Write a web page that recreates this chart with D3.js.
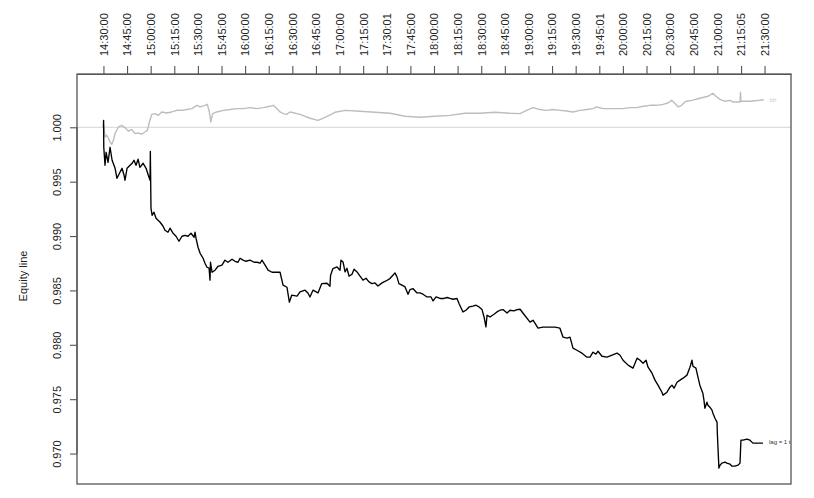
<!DOCTYPE html>
<html>
<head>
<meta charset="utf-8">
<script src="https://cdn.jsdelivr.net/npm/d3@7"></script>
<style>
  html, body { margin: 0; padding: 0; background: #ffffff; }
  svg { display: block; }
  text { font-family: "Liberation Sans", Arial, Helvetica, sans-serif; }
</style>
</head>
<body>
<svg id="chart" width="814" height="498"></svg>
<script>
// Session clock labels along the top axis (15-minute marks)
const tickLabels = [
  "14:30:00","14:45:00","15:00:00","15:15:00","15:30:00","15:45:00","16:00:00",
  "16:15:00","16:30:00","16:45:00","17:00:00","17:15:00","17:30:01","17:45:00",
  "18:00:00","18:15:00","18:30:00","18:45:00","19:00:00","19:15:00","19:30:00",
  "19:45:01","20:00:00","20:15:00","20:30:00","20:45:00","21:00:00","21:15:05",
  "21:30:00"
];

const yTicks = [0.970, 0.975, 0.980, 0.985, 0.990, 0.995, 1.000];

// Strategy equity (lag = 1 t): minutes after the 14:30 open, and equity
const strategyMinutes = [
  0, 0.1, 0.2, 1.0, 1.7, 2.9, 4.2, 5.5, 7.4, 8.6, 10.5, 11.8, 13.1, 13.7, 15.0,
  16.9, 18.2, 19.4, 20.7, 22.0, 23.2, 25.2, 27.1, 28.3, 29.6, 29.8, 30.2, 30.9,
  32.1, 33.4, 34.7, 36.0, 37.9, 39.1, 41.0, 42.3, 44.2, 46.1, 48.0, 49.9, 51.8,
  53.7, 55.6, 57.6, 58.2, 58.8, 60.1, 61.4, 63.3, 64.5, 65.8, 67.1, 67.7, 68.0,
  69.0, 70.9, 72.8, 75.3, 77.2, 79.1, 81.7, 83.6, 85.5, 86.8, 88.7, 90.6, 93.1,
  95.7, 97.6, 99.5, 100.7, 102.7, 104.6, 107.1, 112.2, 114.1, 116.6, 118.1,
  119.6, 123.0, 124.9, 128.1, 130.0, 131.2, 133.1, 136.3, 138.7, 142.0, 143.9,
  144.3, 145.8, 148.4, 150.3, 150.9, 152.2, 153.5, 154.7, 156.0, 157.9, 159.2,
  161.1, 163.0, 164.9, 166.8, 168.7, 170.6, 172.5, 174.4, 177.0, 179.5, 182.0,
  183.9, 185.2, 186.5, 187.7, 189.6, 191.6, 193.5, 194.8, 196.6, 199.2, 201.1,
  203.0, 205.6, 208.1, 209.4, 211.3, 213.8, 216.3, 218.3, 220.2, 222.1, 224.6,
  225.9, 228.4, 230.3, 232.3, 234.8, 236.7, 238.6, 240.5, 241.8, 243.0, 243.7,
  245.6, 248.1, 250.0, 251.9, 253.8, 256.4, 258.3, 260.8, 262.7, 264.7, 266.6,
  271.0, 272.9, 276.1, 279.2, 283.7, 286.9, 290.0, 292.0, 294.5, 296.4, 298.3,
  300.8, 304.0, 307.2, 309.1, 311.0, 312.9, 314.2, 316.7, 319.9, 323.1, 326.3,
  328.2, 330.1, 333.3, 336.4, 339.0, 340.9, 342.8, 344.7, 346.0, 348.5, 350.4,
  352.3, 354.8, 355.5, 358.0, 359.9, 361.2, 362.5, 364.4, 366.3, 368.2, 370.7,
  372.6, 373.9, 374.5, 376.4, 377.7, 378.9, 380.8, 381.5, 382.1, 383.4, 384.0,
  385.3, 386.6, 387.2, 388.5, 389.8, 390.0, 390.4, 391.0, 391.7, 392.9, 394.8,
  396.1, 398.0, 399.3, 401.2, 403.1, 404.4, 405.0, 406.3, 408.8, 410.7, 412.6,
  415.8, 419.0
];
const strategyEquity = [
  1.00000, 1.00064, 0.99819, 0.99651, 0.99770, 0.99678, 0.99816, 0.99697, 0.99623,
  0.99531, 0.99586, 0.99623, 0.99559, 0.99513, 0.99623, 0.99651, 0.99669, 0.99697,
  0.99651, 0.99706, 0.99632, 0.99669, 0.99623, 0.99568, 0.99513, 0.99779, 0.99256,
  0.99191, 0.99219, 0.99164, 0.99145, 0.99127, 0.99090, 0.99053, 0.99035, 0.99072,
  0.99026, 0.98998, 0.98952, 0.98998, 0.99007, 0.98998, 0.99026, 0.98989, 0.99035,
  0.98980, 0.98897, 0.98842, 0.98796, 0.98750, 0.98713, 0.98704, 0.98594, 0.98759,
  0.98667, 0.98686, 0.98722, 0.98732, 0.98778, 0.98759, 0.98787, 0.98768, 0.98759,
  0.98796, 0.98778, 0.98768, 0.98778, 0.98759, 0.98759, 0.98750, 0.98778, 0.98732,
  0.98686, 0.98667, 0.98667, 0.98548, 0.98529, 0.98392, 0.98456, 0.98447, 0.98486,
  0.98502, 0.98474, 0.98440, 0.98502, 0.98477, 0.98563, 0.98566, 0.98539, 0.98640,
  0.98701, 0.98716, 0.98686, 0.98778, 0.98762, 0.98670, 0.98704, 0.98631, 0.98649,
  0.98695, 0.98670, 0.98631, 0.98594, 0.98612, 0.98578, 0.98563, 0.98569, 0.98541,
  0.98569, 0.98587, 0.98609, 0.98640, 0.98661, 0.98624, 0.98563, 0.98548, 0.98532,
  0.98465, 0.98508, 0.98517, 0.98477, 0.98477, 0.98465, 0.98440, 0.98440, 0.98403,
  0.98440, 0.98426, 0.98426, 0.98435, 0.98426, 0.98419, 0.98426, 0.98380, 0.98302,
  0.98318, 0.98348, 0.98355, 0.98364, 0.98348, 0.98324, 0.98256, 0.98165, 0.98272,
  0.98256, 0.98281, 0.98302, 0.98318, 0.98324, 0.98293, 0.98318, 0.98312, 0.98324,
  0.98327, 0.98290, 0.98208, 0.98226, 0.98153, 0.98162, 0.98162, 0.98162, 0.98153,
  0.98070, 0.98061, 0.98070, 0.97969, 0.97950, 0.97923, 0.97886, 0.97886, 0.97932,
  0.97914, 0.97941, 0.97895, 0.97886, 0.97904, 0.97923, 0.97904, 0.97858, 0.97813,
  0.97785, 0.97877, 0.97858, 0.97831, 0.97858, 0.97794, 0.97739, 0.97675, 0.97629,
  0.97564, 0.97537, 0.97564, 0.97610, 0.97629, 0.97601, 0.97656, 0.97675, 0.97693,
  0.97721, 0.97794, 0.97858, 0.97803, 0.97785, 0.97702, 0.97629, 0.97555, 0.97491,
  0.97417, 0.97472, 0.97445, 0.97426, 0.97399, 0.97371, 0.97325, 0.97289, 0.97188,
  0.97059, 0.96866, 0.96893, 0.96912, 0.96921, 0.96912, 0.96903, 0.96884, 0.96884,
  0.96893, 0.96912, 0.97123, 0.97123, 0.97132, 0.97123, 0.97096, 0.97096, 0.97096
];

// Buy-and-hold benchmark (bh)
const benchMinutes = [
  0, 0.3, 1.0, 2.1, 3.1, 4.2, 5.3, 6.3, 7.4, 9.5, 11.6, 13.7, 15.8, 18.0, 20.1,
  22.2, 24.3, 26.4, 27.9, 29.2, 30.7, 32.8, 34.9, 37.0, 40.2, 43.4, 46.6, 49.7,
  52.9, 56.1, 59.3, 61.4, 64.5, 66.0, 67.3, 68.2, 69.4, 72.0, 76.2, 80.4, 84.7,
  88.9, 93.1, 97.4, 101.6, 105.8, 107.9, 110.1, 112.2, 114.3, 116.4, 118.5,
  124.9, 131.2, 136.3, 140.8, 147.1, 153.5, 163.0, 172.5, 182.0, 191.6, 201.1,
  210.6, 220.2, 229.7, 239.2, 248.7, 258.3, 264.7, 268.9, 272.9, 277.3, 281.6,
  285.6, 290.0, 294.3, 298.3, 302.7, 307.0, 311.0, 313.3, 317.4, 321.8, 326.1,
  330.1, 334.5, 338.7, 342.8, 347.2, 351.5, 355.5, 358.6, 361.0, 363.1, 365.2,
  367.3, 369.4, 371.3, 373.7, 378.9, 384.0, 387.2, 389.1, 391.7, 394.8, 398.0,
  399.9, 404.4, 404.7, 405.0, 410.7, 417.0, 419.5
];
const benchEquity = [
  1.00000, 1.00018, 0.99911, 0.99926, 0.99899, 0.99865, 0.99844, 0.99881, 0.99945,
  1.00003, 1.00018, 0.99997, 0.99966, 0.99979, 0.99942, 0.99948, 0.99936, 0.99957,
  0.99972, 1.00049, 1.00119, 1.00126, 1.00110, 1.00141, 1.00131, 1.00141, 1.00156,
  1.00156, 1.00163, 1.00172, 1.00202, 1.00187, 1.00202, 1.00211, 1.00141, 1.00049,
  1.00126, 1.00141, 1.00156, 1.00163, 1.00172, 1.00172, 1.00181, 1.00172, 1.00181,
  1.00193, 1.00202, 1.00172, 1.00141, 1.00126, 1.00119, 1.00141, 1.00119, 1.00083,
  1.00064, 1.00092, 1.00138, 1.00156, 1.00147, 1.00138, 1.00129, 1.00101, 1.00092,
  1.00101, 1.00110, 1.00129, 1.00129, 1.00138, 1.00129, 1.00126, 1.00156, 1.00181,
  1.00163, 1.00156, 1.00163, 1.00156, 1.00150, 1.00141, 1.00156, 1.00163, 1.00172,
  1.00187, 1.00172, 1.00172, 1.00172, 1.00172, 1.00181, 1.00181, 1.00193, 1.00202,
  1.00202, 1.00211, 1.00223, 1.00248, 1.00218, 1.00187, 1.00202, 1.00233, 1.00242,
  1.00248, 1.00267, 1.00285, 1.00313, 1.00285, 1.00257, 1.00239, 1.00248, 1.00233,
  1.00233, 1.00322, 1.00239, 1.00239, 1.00248, 1.00253
];

const yLimits = [0.9672, 1.0049];

// Layout
const W = 814, H = 498;
const plot = { left: 77, right: 791, top: 74, bottom: 484 };

const toMinutes = s => {
  const [h, m, sec] = s.split(":").map(Number);
  return h * 60 + m + sec / 60 - (14 * 60 + 30);
};
const tickMinutes = tickLabels.map(toMinutes);

const span = d3.max(tickMinutes) - d3.min(tickMinutes);
const x = d3.scaleLinear()
  .domain([d3.min(tickMinutes) - 0.04 * span, d3.max(tickMinutes) + 0.04 * span])
  .range([plot.left, plot.right]);
const y = d3.scaleLinear().domain(yLimits).range([plot.bottom, plot.top]);

const svg = d3.select("#chart");
svg.append("rect").attr("width", W).attr("height", H).attr("fill", "#ffffff");

// reference line at equity 1
svg.append("line")
  .attr("x1", plot.left).attr("x2", plot.right)
  .attr("y1", y(1)).attr("y2", y(1))
  .attr("stroke", "#d4d4d4").attr("stroke-width", 1);

const line = d3.line().x(d => x(d[0])).y(d => y(d[1]));

const bench = benchMinutes.map((m, i) => [m, benchEquity[i]]);
const strat = strategyMinutes.map((m, i) => [m, strategyEquity[i]]);

svg.append("path").datum(bench)
  .attr("d", line).attr("fill", "none")
  .attr("stroke", "#bdbdbd").attr("stroke-width", 1.4)
  .attr("stroke-linejoin", "round");

svg.append("path").datum(strat)
  .attr("d", line).attr("fill", "none")
  .attr("stroke", "#000000").attr("stroke-width", 1.35)
  .attr("stroke-linejoin", "round");

// end-of-series labels
const lastB = bench[bench.length - 1];
svg.append("text")
  .attr("x", x(lastB[0]) + 6).attr("y", y(lastB[1]))
  .attr("dominant-baseline", "central")
  .attr("font-size", 6).attr("fill", "#c8c8c8")
  .text("bh");

const lastS = strat[strat.length - 1];
svg.append("text")
  .attr("x", x(lastS[0]) + 6).attr("y", y(lastS[1]) - 1)
  .attr("dominant-baseline", "central")
  .attr("font-size", 6).attr("fill", "#333")
  .text("lag = 1 t");

// frame
svg.append("rect")
  .attr("x", plot.left).attr("y", plot.top)
  .attr("width", plot.right - plot.left).attr("height", plot.bottom - plot.top)
  .attr("fill", "none").attr("stroke", "#555").attr("stroke-width", 1.3);

// top axis with clock labels
const topAxis = d3.axisTop(x)
  .tickValues(tickMinutes)
  .tickFormat((d, i) => tickLabels[i])
  .tickSize(8).tickSizeOuter(0);
const gTop = svg.append("g").attr("transform", `translate(0,${plot.top})`).call(topAxis);
gTop.select(".domain").attr("stroke", "#555").attr("stroke-width", 1.2);
gTop.selectAll(".tick line").attr("stroke", "#555").attr("stroke-width", 1.1);
gTop.selectAll(".tick text")
  .attr("font-family", "Liberation Sans, Arial, sans-serif")
  .attr("font-size", 11).attr("fill", "#222")
  .attr("transform", "rotate(-90)")
  .attr("x", 18).attr("y", 0)
  .attr("dy", "0.35em")
  .attr("text-anchor", "start");

// left axis
const leftAxis = d3.axisLeft(y)
  .tickValues(yTicks)
  .tickFormat(d3.format(".3f"))
  .tickSize(7).tickSizeOuter(0);
const gLeft = svg.append("g").attr("transform", `translate(${plot.left},0)`).call(leftAxis);
gLeft.select(".domain").remove();
gLeft.selectAll(".tick line").attr("stroke", "#555").attr("stroke-width", 1.1);
gLeft.selectAll(".tick text")
  .attr("font-family", "Liberation Sans, Arial, sans-serif")
  .attr("font-size", 11).attr("fill", "#222")
  .attr("transform", "rotate(-90)")
  .attr("x", 0).attr("y", -16)
  .attr("dy", "0")
  .attr("text-anchor", "middle");
// axis line spanning the labelled range
svg.append("line")
  .attr("x1", plot.left).attr("x2", plot.left)
  .attr("y1", y(d3.min(yTicks))).attr("y2", y(d3.max(yTicks)))
  .attr("stroke", "#555").attr("stroke-width", 1.2);

svg.append("text")
  .attr("transform", `translate(27,${(plot.top + plot.bottom) / 2 - 3}) rotate(-90)`)
  .attr("text-anchor", "middle")
  .attr("font-size", 11).attr("fill", "#222")
  .text("Equity line");
</script>
</body>
</html>
